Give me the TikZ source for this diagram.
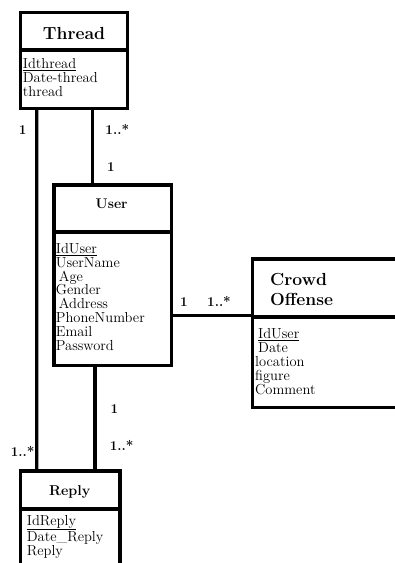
\documentclass[tikz,border=0pt]{standalone}
\usepackage{tikz}

\begin{document}
\begin{tikzpicture}[x=1pt,y=-1pt,
  box/.style={draw,line width=3.3pt,inner sep=0pt},
  title/.style={anchor=base,inner sep=0pt,font=\bfseries},
  attrs/.style={anchor=north west,inner sep=0pt,align=left,font=\fontsize{14.5}{13.9}\selectfont},
  link/.style={line width=3.3pt},
  mult/.style={inner sep=0pt,font=\fontsize{13.5}{16}\selectfont\bfseries}]
\path[use as bounding box,clip] (0,0) rectangle (395,563);

% Thread
\node[box,minimum width=106.5,minimum height=37.5] (threadH) at (74,31) {};
\node[box,minimum width=106.5,minimum height=58.5] (threadB) at (74,79.25) {};
\node[title,font=\fontsize{17.5}{20}\selectfont\bfseries] (threadT) at (74,39.5) {Thread};
\node[attrs] (threadA) at (22.7,58) {\underline{Idthread}\\Date-thread\\thread};

% User
\node[box,minimum width=117.5,minimum height=47] (userH) at (112.75,208.5) {};
\node[box,minimum width=117.5,minimum height=133.5] (userB) at (112.75,298.75) {};
\node[title,font=\fontsize{14}{16}\selectfont\bfseries] (userT) at (111.7,208.3) {User};
\node[attrs] (userA) at (55.7,243) {\underline{IdUser}\\UserName\\\hspace{3pt}Age\\Gender\\\hspace{3pt}Address\\PhoneNumber\\Email\\Password};

% Crowd Offense
\node[box,minimum width=148,minimum height=58] (crowdH) at (326.3,288) {};
\node[box,minimum width=148,minimum height=90.7] (crowdB) at (326.3,362.35) {};
\node[title,anchor=base west,align=left,font=\fontsize{17.5}{20.7}\selectfont\bfseries] (crowdT) at (270,305.7) {Crowd\\Offense};
\node[attrs] (crowdA) at (255,328.2) {\hspace{3pt}\underline{IdUser}\\\hspace{3pt}Date\\location\\figure\\Comment};

% Reply
\node[box,minimum width=99.3,minimum height=38] (replyH) at (70.35,490) {};
\node[box,minimum width=99.3,minimum height=100] (replyB) at (70.35,559) {};
\node[title,font=\fontsize{14.3}{16}\selectfont\bfseries] (replyT) at (69.7,495) {Reply};
\node[attrs] (replyA) at (26.7,515) {\underline{IdReply}\\Date\_Reply\\Reply};

% associations
\draw[link] ([xshift=17.55pt]threadB.south west) -- ([xshift=17.6pt]replyH.north west);
\draw[link] ([xshift=73.55pt]threadB.south west) -- ([xshift=73.55pt]threadB.south west |- userH.north);
\draw[link] ([xshift=42.7pt]userB.south west) -- ([xshift=42.7pt]userB.south west |- replyH.north);
\draw[link] (userB.east |- crowdB.north) -- (crowdB.north west);

% multiplicities
\node[mult] (m1) at (22.7,130) {1};
\node[mult] (m2) at (117.3,129.3) {1..*};
\node[mult] (m3) at (111,166.7) {1};
\node[mult] (m4) at (184,302.3) {1};
\node[mult] (m5) at (219,301.7) {1..*};
\node[mult] (m6) at (114.3,409.3) {1};
\node[mult] (m7) at (121.7,445.7) {1..*};
\node[mult] (m8) at (22.7,451.7) {1..*};
\end{tikzpicture}
\end{document}
